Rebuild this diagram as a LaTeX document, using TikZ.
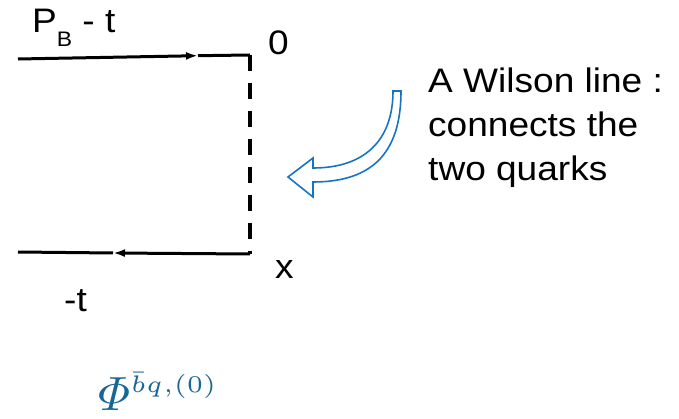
\documentclass[tikz,border=0pt]{standalone}
\usepackage{amsmath}
\usepackage{fontspec}
\setmainfont{Liberation Sans}[FakeStretch=1.09]
\usetikzlibrary{arrows.meta,positioning}
\definecolor{wilsonblue}{RGB}{25,115,195}
\definecolor{phiblue}{RGB}{24,102,150}

\begin{document}
\begin{tikzpicture}[
  x=1pt, y=-1pt,
  wire/.style={draw, line width=3pt},
  flow/.style={wire, -{Latex[length=12pt, width=8pt]}},
  gauge/.style={draw, line width=3.5pt, dash pattern=on 16pt off 12pt},
  tag/.style={inner sep=0pt, font=\fontsize{34}{44}\selectfont},
  pointer/.style={draw=wilsonblue, line width=1.6pt, line join=miter, fill=white}
]
\useasboundingbox (0,0) rectangle (679,419);
% contour corners
\coordinate (tl) at (18,59);
\coordinate (tr) at (250,55);
\coordinate (bl) at (18,252);
\coordinate (br) at (250,254);
\coordinate (tm) at (198,55.7);
\coordinate (bm) at (113,253);
% quark lines and the Wilson line
\draw[flow] (tl) -- (tm);
\draw[wire] (tm) -- (tr);
\draw[flow] (br) -- (bm);
\draw[wire] (bm) -- (bl);
\draw[gauge] (tr) -- (br);
% labels
\node[tag, anchor=base west] (pb) at (32,33)
  {P\raisebox{-14pt}{\fontsize{21}{21}\selectfont B} - t};
\node[tag, anchor=base west] (zero) at (268,55) {0};
\node[tag, anchor=base west] (xpt) at (275,279) {x};
\node[tag, anchor=base west] (mt) at (64,311) {-t};
\node[tag, anchor=north west, align=left] (note) at (428,68)
  {A Wilson line :\\connects the\\two quarks};
% curved pointer
\draw[pointer] (393,91) -- (401,91)
  .. controls (401,150) and (375,182) .. (313,182)
  -- (313,197) -- (288,177) -- (313,158) -- (313,168)
  .. controls (365,168) and (393,140) .. (393,91) -- cycle;
\node[inner sep=0pt, anchor=base west, text=phiblue,
      scale=4.8, transform shape] (phi) at (98,410)
  {$\varPhi^{\scriptscriptstyle \bar{b}q,(0)}$};
\end{tikzpicture}
\end{document}
